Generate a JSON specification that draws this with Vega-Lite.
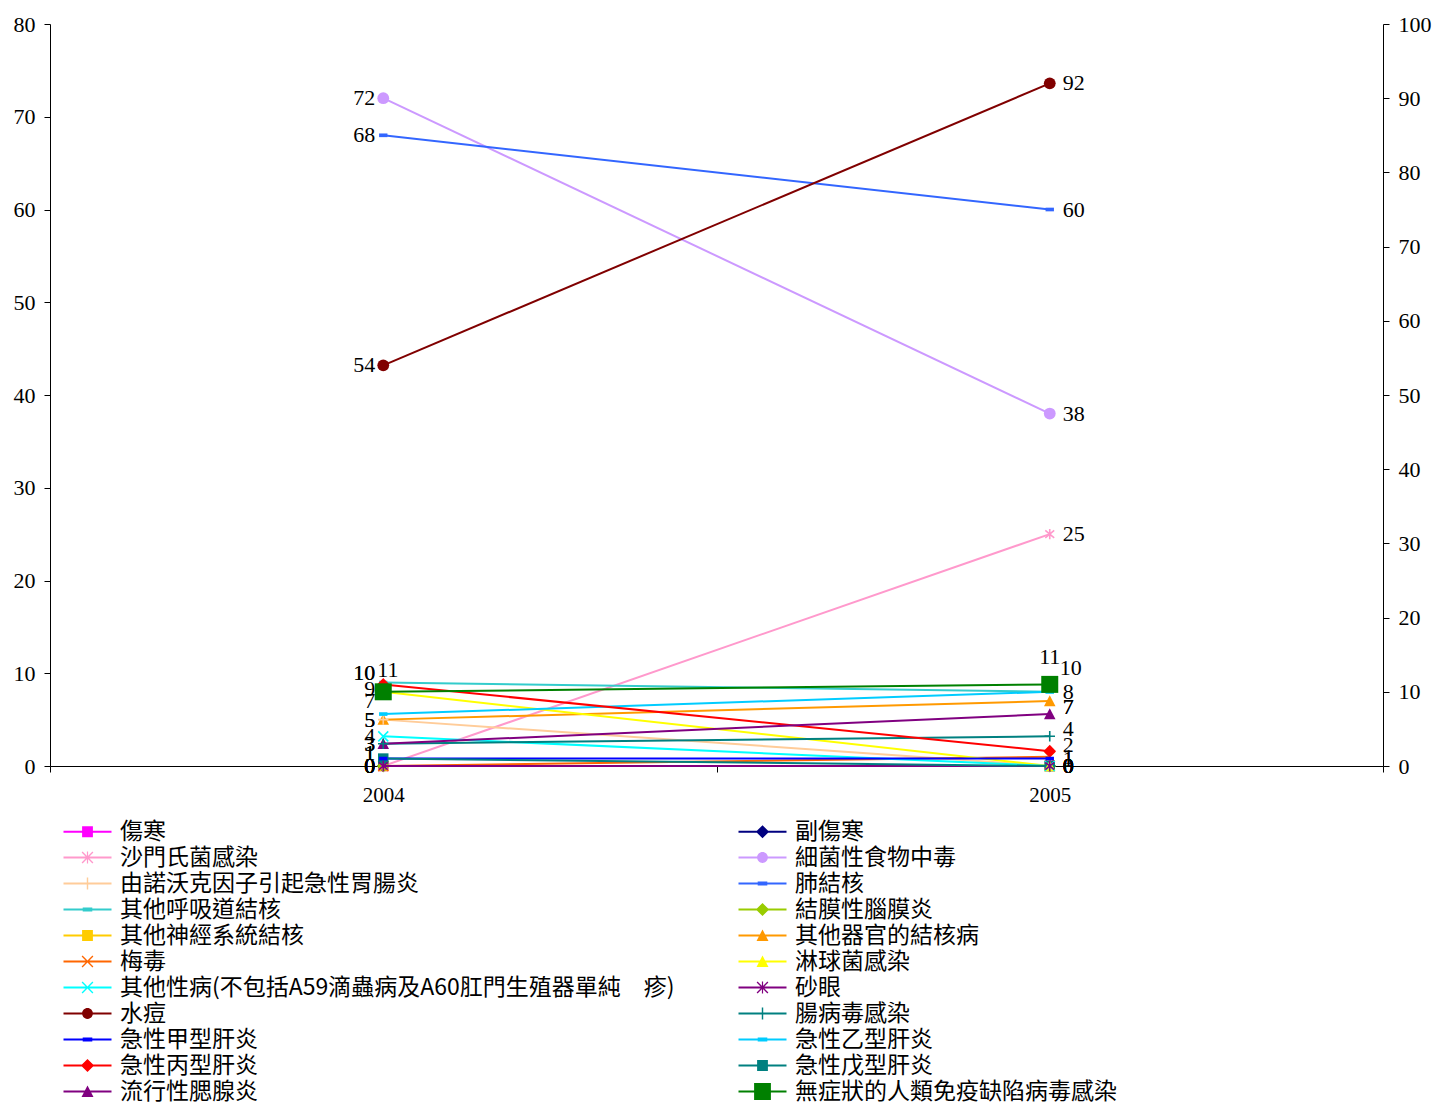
{
  "$schema": "https://vega.github.io/schema/vega-lite/v6.json",
  "width": 1333,
  "height": 742,
  "autosize": {"type": "none"},
  "padding": {"left": 50, "top": 24, "right": 56, "bottom": 340},
  "background": "white",
  "config": {"view": {"stroke": null}, "font": "Liberation Serif"},
  "data": {
    "values": [
      {"disease": "傷寒", "year": "2004", "value": 0, "axis": "L"},
      {"disease": "傷寒", "year": "2005", "value": 0, "axis": "L"},
      {"disease": "副傷寒", "year": "2004", "value": 0, "axis": "L"},
      {"disease": "副傷寒", "year": "2005", "value": 0, "axis": "L"},
      {"disease": "沙門氏菌感染", "year": "2004", "value": 0, "axis": "L"},
      {"disease": "沙門氏菌感染", "year": "2005", "value": 25, "axis": "L"},
      {"disease": "細菌性食物中毒", "year": "2004", "value": 72, "axis": "L"},
      {"disease": "細菌性食物中毒", "year": "2005", "value": 38, "axis": "L"},
      {"disease": "由諾沃克因子引起急性胃腸炎", "year": "2004", "value": 5, "axis": "L"},
      {"disease": "由諾沃克因子引起急性胃腸炎", "year": "2005", "value": 0, "axis": "L"},
      {"disease": "肺結核", "year": "2004", "value": 68, "axis": "L"},
      {"disease": "肺結核", "year": "2005", "value": 60, "axis": "L"},
      {"disease": "其他呼吸道結核", "year": "2004", "value": 9, "axis": "L"},
      {"disease": "其他呼吸道結核", "year": "2005", "value": 8, "axis": "L"},
      {"disease": "結膜性腦膜炎", "year": "2004", "value": 0, "axis": "L"},
      {"disease": "結膜性腦膜炎", "year": "2005", "value": 0, "axis": "L"},
      {"disease": "其他神經系統結核", "year": "2004", "value": 0, "axis": "L"},
      {"disease": "其他神經系統結核", "year": "2005", "value": 0, "axis": "L"},
      {"disease": "其他器官的結核病", "year": "2004", "value": 5, "axis": "L"},
      {"disease": "其他器官的結核病", "year": "2005", "value": 7, "axis": "L"},
      {"disease": "梅毒", "year": "2004", "value": 0, "axis": "L"},
      {"disease": "梅毒", "year": "2005", "value": 1, "axis": "L"},
      {"disease": "淋球菌感染", "year": "2004", "value": 10, "axis": "R"},
      {"disease": "淋球菌感染", "year": "2005", "value": 0, "axis": "R"},
      {"disease": "其他性病(不包括A59滴蟲病及A60肛門生殖器單純　疹)", "year": "2004", "value": 4, "axis": "R"},
      {"disease": "其他性病(不包括A59滴蟲病及A60肛門生殖器單純　疹)", "year": "2005", "value": 0, "axis": "R"},
      {"disease": "砂眼", "year": "2004", "value": 0, "axis": "R"},
      {"disease": "砂眼", "year": "2005", "value": 0, "axis": "R"},
      {"disease": "水痘", "year": "2004", "value": 54, "axis": "R"},
      {"disease": "水痘", "year": "2005", "value": 92, "axis": "R"},
      {"disease": "腸病毒感染", "year": "2004", "value": 3, "axis": "R"},
      {"disease": "腸病毒感染", "year": "2005", "value": 4, "axis": "R"},
      {"disease": "急性甲型肝炎", "year": "2004", "value": 1, "axis": "R"},
      {"disease": "急性甲型肝炎", "year": "2005", "value": 1, "axis": "R"},
      {"disease": "急性乙型肝炎", "year": "2004", "value": 7, "axis": "R"},
      {"disease": "急性乙型肝炎", "year": "2005", "value": 10, "axis": "R"},
      {"disease": "急性丙型肝炎", "year": "2004", "value": 11, "axis": "R"},
      {"disease": "急性丙型肝炎", "year": "2005", "value": 2, "axis": "R"},
      {"disease": "急性戊型肝炎", "year": "2004", "value": 1, "axis": "R"},
      {"disease": "急性戊型肝炎", "year": "2005", "value": 0, "axis": "R"},
      {"disease": "流行性腮腺炎", "year": "2004", "value": 3, "axis": "R"},
      {"disease": "流行性腮腺炎", "year": "2005", "value": 7, "axis": "R"},
      {"disease": "無症狀的人類免疫缺陷病毒感染", "year": "2004", "value": 10, "axis": "R"},
      {"disease": "無症狀的人類免疫缺陷病毒感染", "year": "2005", "value": 11, "axis": "R"}
    ]
  },
  "encoding": {
    "x": {
      "field": "year", "type": "ordinal", "bandPosition": 0.5,
      "scale": {"type": "band", "domain": ["2004", "2005"], "paddingInner": 0, "paddingOuter": 0},
      "axis": {"title": null, "labelAngle": 0, "tickBand": "extent", "labelFont": "Liberation Serif", "labelFontSize": 21, "labelColor": "black", "domainColor": "black", "tickColor": "black", "tickSize": 6, "labelPadding": 12, "grid": false}
    }
  },
  "layer": [
    {
      "transform": [{"filter": "datum.axis == 'L'"}],
      "encoding": {
        "y": {
          "field": "value", "type": "quantitative",
          "scale": {"domain": [0, 80], "nice": false, "zero": true},
          "axis": {"title": null, "orient": "left", "values": [0, 10, 20, 30, 40, 50, 60, 70, 80], "grid": false, "labelFont": "Liberation Serif", "labelFontSize": 22, "labelColor": "black", "domainColor": "black", "tickColor": "black", "tickSize": 6, "labelPadding": 9}
        }
      },
      "layer": [
        {
          "mark": {"type": "line", "strokeWidth": 2},
          "encoding": {
            "stroke": {
              "field": "disease", "type": "nominal", "legend": null,
              "scale": {
                "domain": ["傷寒", "副傷寒", "沙門氏菌感染", "細菌性食物中毒", "由諾沃克因子引起急性胃腸炎", "肺結核", "其他呼吸道結核", "結膜性腦膜炎", "其他神經系統結核", "其他器官的結核病", "梅毒", "淋球菌感染", "其他性病(不包括A59滴蟲病及A60肛門生殖器單純　疹)", "砂眼", "水痘", "腸病毒感染", "急性甲型肝炎", "急性乙型肝炎", "急性丙型肝炎", "急性戊型肝炎", "流行性腮腺炎", "無症狀的人類免疫缺陷病毒感染", "-"],
                "range": ["#FF00FF", "#000080", "#FF99CC", "#CC99FF", "#FFCC99", "#3366FF", "#33CCCC", "#99CC00", "#FFCC00", "#FF9900", "#FF6600", "#FFFF00", "#00FFFF", "#800080", "#800000", "#008080", "#0000FF", "#00CCFF", "#FF0000", "#008080", "#800080", "#008000", "#000000"]
              }
            }
          }
        },
        {"transform": [{"filter": {"field": "disease", "oneOf": ["細菌性食物中毒", "水痘"]}}], "mark": {"type": "point", "shape": "circle", "filled": true, "size": 140, "opacity": 1},
         "encoding": {"fill": {"field": "disease", "type": "nominal", "legend": null, "scale": {
                "domain": ["傷寒", "副傷寒", "沙門氏菌感染", "細菌性食物中毒", "由諾沃克因子引起急性胃腸炎", "肺結核", "其他呼吸道結核", "結膜性腦膜炎", "其他神經系統結核", "其他器官的結核病", "梅毒", "淋球菌感染", "其他性病(不包括A59滴蟲病及A60肛門生殖器單純　疹)", "砂眼", "水痘", "腸病毒感染", "急性甲型肝炎", "急性乙型肝炎", "急性丙型肝炎", "急性戊型肝炎", "流行性腮腺炎", "無症狀的人類免疫缺陷病毒感染", "--"],
                "range": ["#FF00FF", "#000080", "#FF99CC", "#CC99FF", "#FFCC99", "#3366FF", "#33CCCC", "#99CC00", "#FFCC00", "#FF9900", "#FF6600", "#FFFF00", "#00FFFF", "#800080", "#800000", "#008080", "#0000FF", "#00CCFF", "#FF0000", "#008080", "#800080", "#008000", "#000000"]}}}},
        {"transform": [{"filter": {"field": "disease", "oneOf": ["傷寒", "其他神經系統結核", "急性戊型肝炎"]}}], "mark": {"type": "point", "shape": "square", "filled": true, "size": 110, "opacity": 1}, "encoding": {"fill": {"field": "disease", "type": "nominal", "legend": null}}},
        {"transform": [{"filter": {"field": "disease", "oneOf": ["副傷寒", "結膜性腦膜炎", "急性丙型肝炎"]}}], "mark": {"type": "point", "shape": "M0,-1.2L1.2,0L0,1.2L-1.2,0Z", "filled": true, "size": 110, "opacity": 1}, "encoding": {"fill": {"field": "disease", "type": "nominal", "legend": null}}},
        {"transform": [{"filter": {"field": "disease", "oneOf": ["其他器官的結核病", "淋球菌感染", "流行性腮腺炎"]}}], "mark": {"type": "point", "shape": "M0,-1.1L1.1,1H-1.1Z", "filled": true, "size": 110, "opacity": 1}, "encoding": {"fill": {"field": "disease", "type": "nominal", "legend": null}}},
        {"transform": [{"filter": {"field": "disease", "oneOf": ["肺結核", "其他呼吸道結核", "急性甲型肝炎", "急性乙型肝炎"]}}], "mark": {"type": "point", "shape": "M-0.8,-0.35H0.8V0.35H-0.8Z", "filled": true, "size": 110, "opacity": 1}, "encoding": {"fill": {"field": "disease", "type": "nominal", "legend": null}}},
        {"transform": [{"filter": {"field": "disease", "oneOf": ["無症狀的人類免疫缺陷病毒感染"]}}], "mark": {"type": "point", "shape": "square", "filled": true, "size": 289, "opacity": 1}, "encoding": {"fill": {"field": "disease", "type": "nominal", "legend": null}}},
        {"transform": [{"filter": {"field": "disease", "oneOf": ["梅毒", "其他性病(不包括A59滴蟲病及A60肛門生殖器單純　疹)"]}}], "mark": {"type": "point", "shape": "M-1,-1L1,1M-1,1L1,-1", "filled": false, "strokeWidth": 1.6, "size": 100, "opacity": 1}, "encoding": {"stroke": {"field": "disease", "type": "nominal", "legend": null}}},
        {"transform": [{"filter": {"field": "disease", "oneOf": ["由諾沃克因子引起急性胃腸炎", "腸病毒感染"]}}], "mark": {"type": "point", "shape": "M-1,0H1M0,-1V1", "filled": false, "strokeWidth": 1.6, "size": 110, "opacity": 1}, "encoding": {"stroke": {"field": "disease", "type": "nominal", "legend": null}}},
        {"transform": [{"filter": {"field": "disease", "oneOf": ["沙門氏菌感染", "砂眼"]}}], "mark": {"type": "point", "shape": "M0,-1V1M-0.85,-0.7L0.85,0.7M-0.85,0.7L0.85,-0.7", "filled": false, "strokeWidth": 1.6, "size": 110, "opacity": 1}, "encoding": {"stroke": {"field": "disease", "type": "nominal", "legend": null}}},
        {
          "mark": {"type": "text", "font": "Liberation Serif", "fontSize": 22, "baseline": "middle", "color": "black",
                   "align": {"expr": "datum.year == '2004' ? (datum.disease == '急性丙型肝炎' ? 'left' : 'right') : (datum.disease == '無症狀的人類免疫缺陷病毒感染' ? 'center' : 'left')"},
                   "dx": {"expr": "datum.year == '2004' ? (datum.disease == '急性丙型肝炎' ? -6 : -8) : (datum.disease == '無症狀的人類免疫缺陷病毒感染' ? 0 : (datum.disease == '急性乙型肝炎' ? 10 : 13))"},
                   "dy": {"expr": "datum.year == '2004' ? (datum.disease == '急性丙型肝炎' ? -14 : (datum.disease == '無症狀的人類免疫缺陷病毒感染' || datum.disease == '淋球菌感染' ? -19 : (datum.disease == '急性乙型肝炎' ? -13 : (datum.disease == '急性甲型肝炎' || datum.disease == '急性戊型肝炎' ? -6 : (datum.disease == '其他呼吸道結核' ? 6 : 0))))) : (datum.disease == '無症狀的人類免疫缺陷病毒感染' ? -27 : (datum.disease == '急性乙型肝炎' ? -24 : (datum.disease == '其他器官的結核病' ? 6 : (datum.disease == '流行性腮腺炎' || datum.disease == '腸病毒感染' ? -7 : (datum.disease == '急性丙型肝炎' ? -6 : 0)))))"}},
          "encoding": {"text": {"field": "value", "type": "quantitative"}}
        },
        {
          "transform": [{"filter": "datum.value < 0"}],
          "mark": {"type": "point", "filled": true, "opacity": 1},
          "encoding": {
            "color": {
              "field": "disease", "type": "nominal",
              "scale": {
                "domain": ["傷寒", "副傷寒", "沙門氏菌感染", "細菌性食物中毒", "由諾沃克因子引起急性胃腸炎", "肺結核", "其他呼吸道結核", "結膜性腦膜炎", "其他神經系統結核", "其他器官的結核病", "梅毒", "淋球菌感染", "其他性病(不包括A59滴蟲病及A60肛門生殖器單純　疹)", "砂眼", "水痘", "腸病毒感染", "急性甲型肝炎", "急性乙型肝炎", "急性丙型肝炎", "急性戊型肝炎", "流行性腮腺炎", "無症狀的人類免疫缺陷病毒感染"],
                "range": ["#FF00FF", "#000080", "#FF99CC", "#CC99FF", "#FFCC99", "#3366FF", "#33CCCC", "#99CC00", "#FFCC00", "#FF9900", "#FF6600", "#FFFF00", "#00FFFF", "#800080", "#800000", "#008080", "#0000FF", "#00CCFF", "#FF0000", "#008080", "#800080", "#008000"]
              },
              "legend": {
                "title": null, "orient": "none", "legendX": 26, "legendY": 796, "direction": "horizontal",
                "columns": 2, "columnPadding": 63, "rowPadding": 2, "padding": 0,
                "symbolSize": 144, "symbolStrokeWidth": 0, "symbolOpacity": 1,
                "labelFont": "Noto Sans CJK TC", "labelFontSize": 23, "labelColor": "black", "labelLimit": 1000, "labelOffset": 21
              }
            },
            "shape": {
              "field": "disease", "type": "nominal",
              "scale": {
                "domain": ["傷寒", "副傷寒", "沙門氏菌感染", "細菌性食物中毒", "由諾沃克因子引起急性胃腸炎", "肺結核", "其他呼吸道結核", "結膜性腦膜炎", "其他神經系統結核", "其他器官的結核病", "梅毒", "淋球菌感染", "其他性病(不包括A59滴蟲病及A60肛門生殖器單純　疹)", "砂眼", "水痘", "腸病毒感染", "急性甲型肝炎", "急性乙型肝炎", "急性丙型肝炎", "急性戊型肝炎", "流行性腮腺炎", "無症狀的人類免疫缺陷病毒感染"],
                "range": [
                  "M-4,-0.17H4V0.17H-4ZM-0.9,-0.9H0.9V0.9H-0.9Z",
                  "M-4,-0.17H4V0.17H-4ZM0,-1.1L1.1,0L0,1.1L-1.1,0Z",
                  "M-4,-0.17H4V0.17H-4ZM-0.1,-1H0.1V1H-0.1ZM-0.82,-0.98L0.98,0.82L0.82,0.98L-0.98,-0.82ZM-0.98,0.82L0.82,-0.98L0.98,-0.82L-0.82,0.98Z",
                  "M-4,-0.17H4V0.17H-4ZM-0.9,0A0.9,0.9,0,1,1,0.9,0A0.9,0.9,0,1,1,-0.9,0Z",
                  "M-4,-0.17H4V0.17H-4ZM-0.12,-1H0.12V1H-0.12Z",
                  "M-4,-0.17H4V0.17H-4ZM-0.8,-0.35H0.8V0.35H-0.8Z",
                  "M-4,-0.17H4V0.17H-4ZM-0.8,-0.35H0.8V0.35H-0.8Z",
                  "M-4,-0.17H4V0.17H-4ZM0,-1.1L1.1,0L0,1.1L-1.1,0Z",
                  "M-4,-0.17H4V0.17H-4ZM-0.9,-0.9H0.9V0.9H-0.9Z",
                  "M-4,-0.17H4V0.17H-4ZM0,-1L1,0.9H-1Z",
                  "M-4,-0.17H4V0.17H-4ZM-0.82,-0.98L0.98,0.82L0.82,0.98L-0.98,-0.82ZM-0.98,0.82L0.82,-0.98L0.98,-0.82L-0.82,0.98Z",
                  "M-4,-0.17H4V0.17H-4ZM0,-1L1,0.9H-1Z",
                  "M-4,-0.17H4V0.17H-4ZM-0.82,-0.98L0.98,0.82L0.82,0.98L-0.98,-0.82ZM-0.98,0.82L0.82,-0.98L0.98,-0.82L-0.82,0.98Z",
                  "M-4,-0.17H4V0.17H-4ZM-0.1,-1H0.1V1H-0.1ZM-0.82,-0.98L0.98,0.82L0.82,0.98L-0.98,-0.82ZM-0.98,0.82L0.82,-0.98L0.98,-0.82L-0.82,0.98Z",
                  "M-4,-0.17H4V0.17H-4ZM-0.9,0A0.9,0.9,0,1,1,0.9,0A0.9,0.9,0,1,1,-0.9,0Z",
                  "M-4,-0.17H4V0.17H-4ZM-0.12,-1H0.12V1H-0.12Z",
                  "M-4,-0.17H4V0.17H-4ZM-0.8,-0.35H0.8V0.35H-0.8Z",
                  "M-4,-0.17H4V0.17H-4ZM-0.8,-0.35H0.8V0.35H-0.8Z",
                  "M-4,-0.17H4V0.17H-4ZM0,-1.1L1.1,0L0,1.1L-1.1,0Z",
                  "M-4,-0.17H4V0.17H-4ZM-0.9,-0.9H0.9V0.9H-0.9Z",
                  "M-4,-0.17H4V0.17H-4ZM0,-1L1,0.9H-1Z",
                  "M-4,-0.17H4V0.17H-4ZM-1.4,-1.4H1.4V1.4H-1.4Z"
                ]
              },
              "legend": {
                "title": null, "orient": "none", "legendX": 26, "legendY": 796, "direction": "horizontal",
                "columns": 2, "columnPadding": 63, "rowPadding": 2, "padding": 0,
                "symbolSize": 144, "symbolStrokeWidth": 0, "symbolOpacity": 1,
                "labelFont": "Noto Sans CJK TC", "labelFontSize": 23, "labelColor": "black", "labelLimit": 1000, "labelOffset": 21
              }
            }
          }
        }
      ]
    },
    {
      "transform": [{"filter": "datum.axis == 'R'"}],
      "encoding": {
        "y": {
          "field": "value", "type": "quantitative",
          "scale": {"domain": [0, 100], "nice": false, "zero": true},
          "axis": {"title": null, "orient": "right", "values": [0, 10, 20, 30, 40, 50, 60, 70, 80, 90, 100], "grid": false, "labelFont": "Liberation Serif", "labelFontSize": 22, "labelColor": "black", "domainColor": "black", "tickColor": "black", "tickSize": 6, "labelPadding": 9}
        }
      },
      "layer": [
        {"mark": {"type": "line", "strokeWidth": 2}, "encoding": {"stroke": {"field": "disease", "type": "nominal", "legend": null}}},
        {"transform": [{"filter": {"field": "disease", "oneOf": ["細菌性食物中毒", "水痘"]}}], "mark": {"type": "point", "shape": "circle", "filled": true, "size": 140, "opacity": 1}, "encoding": {"fill": {"field": "disease", "type": "nominal", "legend": null}}},
        {"transform": [{"filter": {"field": "disease", "oneOf": ["傷寒", "其他神經系統結核", "急性戊型肝炎"]}}], "mark": {"type": "point", "shape": "square", "filled": true, "size": 110, "opacity": 1}, "encoding": {"fill": {"field": "disease", "type": "nominal", "legend": null}}},
        {"transform": [{"filter": {"field": "disease", "oneOf": ["副傷寒", "結膜性腦膜炎", "急性丙型肝炎"]}}], "mark": {"type": "point", "shape": "M0,-1.2L1.2,0L0,1.2L-1.2,0Z", "filled": true, "size": 110, "opacity": 1}, "encoding": {"fill": {"field": "disease", "type": "nominal", "legend": null}}},
        {"transform": [{"filter": {"field": "disease", "oneOf": ["其他器官的結核病", "淋球菌感染", "流行性腮腺炎"]}}], "mark": {"type": "point", "shape": "M0,-1.1L1.1,1H-1.1Z", "filled": true, "size": 110, "opacity": 1}, "encoding": {"fill": {"field": "disease", "type": "nominal", "legend": null}}},
        {"transform": [{"filter": {"field": "disease", "oneOf": ["肺結核", "其他呼吸道結核", "急性甲型肝炎", "急性乙型肝炎"]}}], "mark": {"type": "point", "shape": "M-0.8,-0.35H0.8V0.35H-0.8Z", "filled": true, "size": 110, "opacity": 1}, "encoding": {"fill": {"field": "disease", "type": "nominal", "legend": null}}},
        {"transform": [{"filter": {"field": "disease", "oneOf": ["無症狀的人類免疫缺陷病毒感染"]}}], "mark": {"type": "point", "shape": "square", "filled": true, "size": 289, "opacity": 1}, "encoding": {"fill": {"field": "disease", "type": "nominal", "legend": null}}},
        {"transform": [{"filter": {"field": "disease", "oneOf": ["梅毒", "其他性病(不包括A59滴蟲病及A60肛門生殖器單純　疹)"]}}], "mark": {"type": "point", "shape": "M-1,-1L1,1M-1,1L1,-1", "filled": false, "strokeWidth": 1.6, "size": 100, "opacity": 1}, "encoding": {"stroke": {"field": "disease", "type": "nominal", "legend": null}}},
        {"transform": [{"filter": {"field": "disease", "oneOf": ["由諾沃克因子引起急性胃腸炎", "腸病毒感染"]}}], "mark": {"type": "point", "shape": "M-1,0H1M0,-1V1", "filled": false, "strokeWidth": 1.6, "size": 110, "opacity": 1}, "encoding": {"stroke": {"field": "disease", "type": "nominal", "legend": null}}},
        {"transform": [{"filter": {"field": "disease", "oneOf": ["沙門氏菌感染", "砂眼"]}}], "mark": {"type": "point", "shape": "M0,-1V1M-0.85,-0.7L0.85,0.7M-0.85,0.7L0.85,-0.7", "filled": false, "strokeWidth": 1.6, "size": 110, "opacity": 1}, "encoding": {"stroke": {"field": "disease", "type": "nominal", "legend": null}}},
        {
          "mark": {"type": "text", "font": "Liberation Serif", "fontSize": 22, "baseline": "middle", "color": "black",
                   "align": {"expr": "datum.year == '2004' ? (datum.disease == '急性丙型肝炎' ? 'left' : 'right') : (datum.disease == '無症狀的人類免疫缺陷病毒感染' ? 'center' : 'left')"},
                   "dx": {"expr": "datum.year == '2004' ? (datum.disease == '急性丙型肝炎' ? -6 : -8) : (datum.disease == '無症狀的人類免疫缺陷病毒感染' ? 0 : (datum.disease == '急性乙型肝炎' ? 10 : 13))"},
                   "dy": {"expr": "datum.year == '2004' ? (datum.disease == '急性丙型肝炎' ? -14 : (datum.disease == '無症狀的人類免疫缺陷病毒感染' || datum.disease == '淋球菌感染' ? -19 : (datum.disease == '急性乙型肝炎' ? -13 : (datum.disease == '急性甲型肝炎' || datum.disease == '急性戊型肝炎' ? -6 : (datum.disease == '其他呼吸道結核' ? 6 : 0))))) : (datum.disease == '無症狀的人類免疫缺陷病毒感染' ? -27 : (datum.disease == '急性乙型肝炎' ? -24 : (datum.disease == '其他器官的結核病' ? 6 : (datum.disease == '流行性腮腺炎' || datum.disease == '腸病毒感染' ? -7 : (datum.disease == '急性丙型肝炎' ? -6 : 0)))))"}},
          "encoding": {"text": {"field": "value", "type": "quantitative"}}
        }
      ]
    }
  ],
  "resolve": {"scale": {"y": "independent"}}
}
